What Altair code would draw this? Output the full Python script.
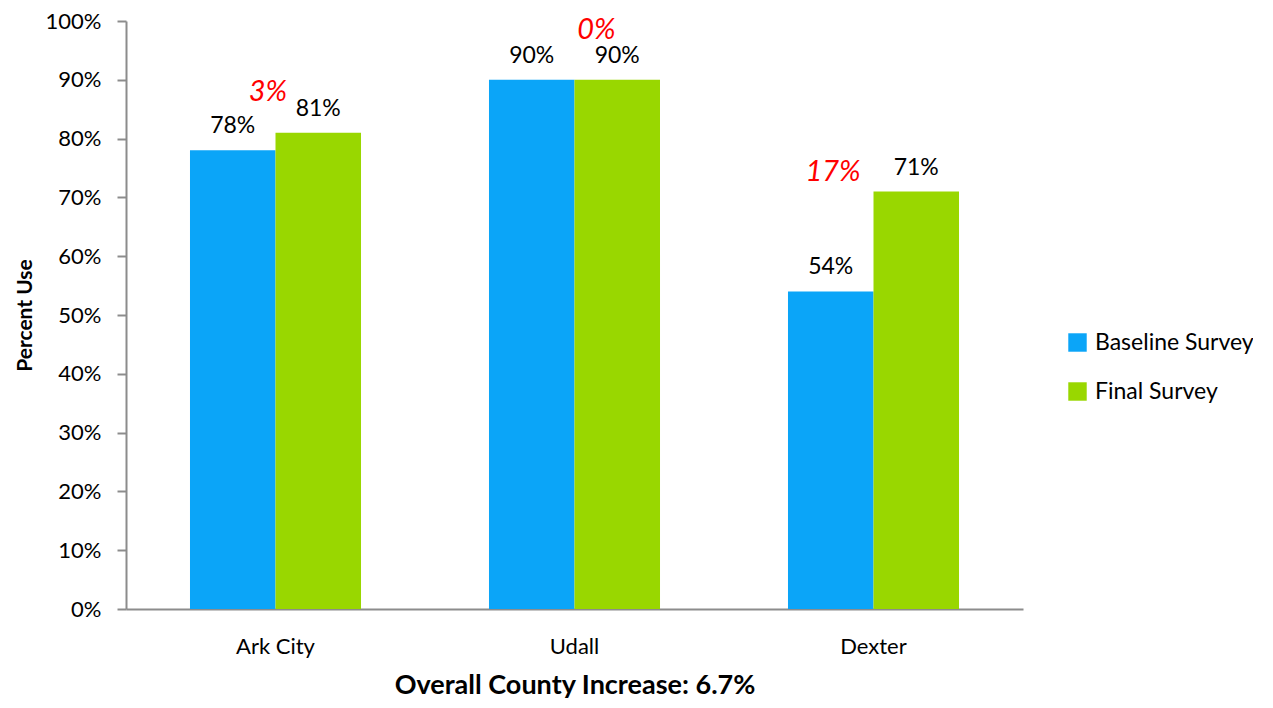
import altair as alt
import pandas as pd

categories = ["Ark City", "Udall", "Dexter"]
series = ["Baseline Survey", "Final Survey"]
baseline = [0.78, 0.90, 0.54]
final = [0.81, 0.90, 0.71]
changes = ["3%", "0%", "17%"]
colors = ["#0BA5F8", "#99D700"]

rows = []
for c, b, f in zip(categories, baseline, final):
    rows.append({"Town": c, "Survey": series[0], "Value": b})
    rows.append({"Town": c, "Survey": series[1], "Value": f})
df = pd.DataFrame(rows)

chg = pd.DataFrame({
    "Town": categories,
    "Change": changes,
    "Top": [max(b, f) for b, f in zip(baseline, final)],
})

FONT = "Lato"

x = alt.X("Town:N", sort=categories,
          scale=alt.Scale(paddingInner=0.428, paddingOuter=0.214),
          axis=alt.Axis(title="Overall County Increase: 6.7%", labelAngle=0,
                        ticks=False, labelPadding=27, labelFontSize=22,
                        labelColor="#000000", titleFontSize=27,
                        titleFontWeight="bold", titleColor="#000000",
                        titlePadding=15, domainColor="#8C8C8C", domainWidth=2))
y = alt.Y("Value:Q", scale=alt.Scale(domain=[0, 1]),
          axis=alt.Axis(title="Percent Use", format=".0%", values=[i / 10 for i in range(11)],
                        grid=False, tickSize=9, tickColor="#8C8C8C", tickWidth=2,
                        domainColor="#8C8C8C", domainWidth=2, labelFontSize=22,
                        labelColor="#000000", labelPadding=16, titleFontSize=21,
                        titleFontWeight="bold", titleColor="#000000", titlePadding=10))

base = alt.Chart(df).encode(
    x=x,
    y=y,
    xOffset=alt.XOffset("Survey:N", sort=series),
)

bars = base.mark_bar().encode(
    color=alt.Color("Survey:N", sort=series,
                    scale=alt.Scale(domain=series, range=colors),
                    legend=alt.Legend(title=None, orient="none", legendX=940, legendY=310,
                                      symbolType="square", symbolSize=340,
                                      symbolStrokeWidth=0, labelFontSize=23,
                                      labelColor="#000000", rowPadding=25,
                                      labelOffset=6, labelLimit=400))
)

labels = base.mark_text(baseline="bottom", dy=-12, fontSize=23, color="#000000").encode(
    text=alt.Text("Value:Q", format=".0%")
)

offsets = [(-7.5, -41), (22, -50), (-40.5, -20)]
red_layers = []
for (c, (dx, dy)) in zip(categories, offsets):
    red_layers.append(
        alt.Chart(chg).transform_filter(alt.datum.Town == c).mark_text(
            color="#FF0000", fontStyle="italic", fontSize=29, baseline="middle",
            dx=dx, dy=dy
        ).encode(
            x=alt.X("Town:N", sort=categories),
            y=alt.Y("Top:Q"),
            text="Change:N",
        )
    )

chart = alt.layer(bars, labels, *red_layers).properties(
    width=897, height=588,
    autosize=alt.AutoSizeParams(type="none"),
    padding={"left": 118, "top": 13, "right": 230, "bottom": 91},
).configure(font=FONT).configure_view(stroke=None)

chart.save("out.html", embed_options={"renderer": "svg", "actions": False})
